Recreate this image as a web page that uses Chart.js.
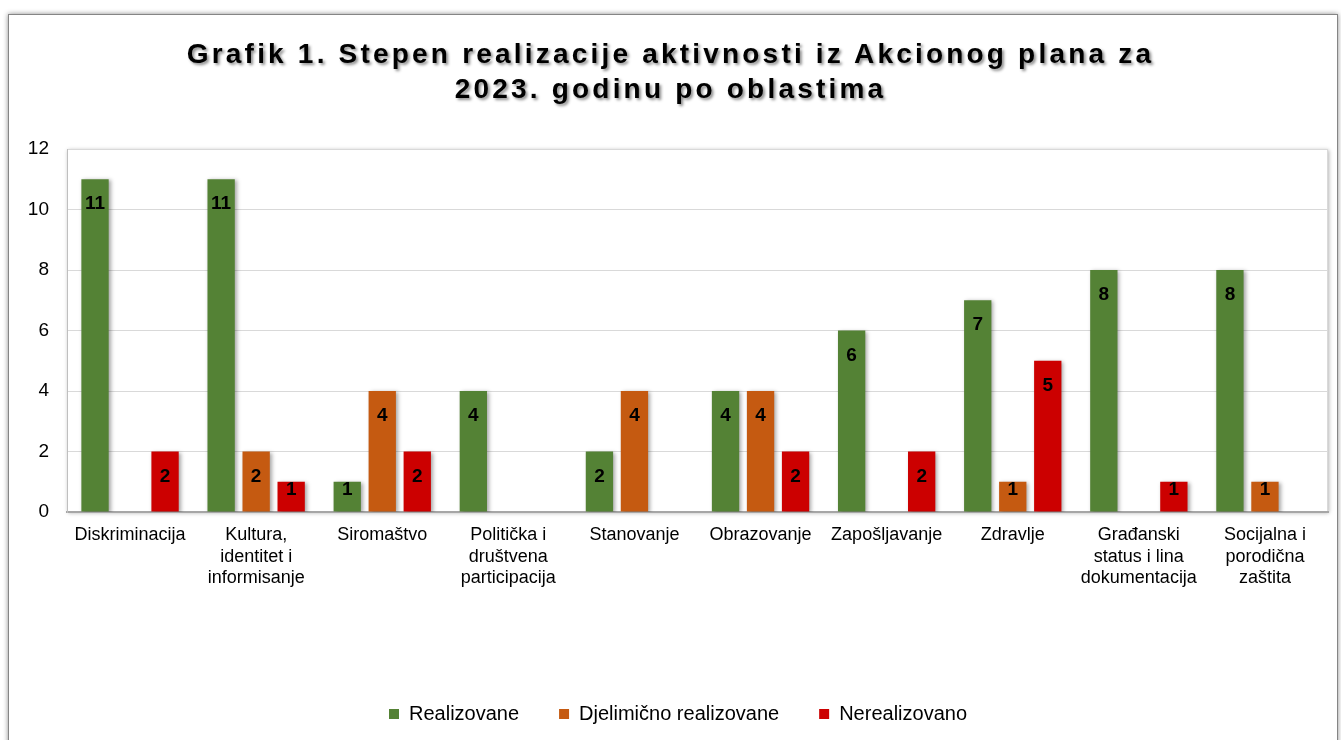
<!DOCTYPE html>
<html>
<head>
    <title>Grafik 1</title>
    <script src="https://cdn.jsdelivr.net/npm/chart.js"></script>
    <style>
        body {
            margin: 0;
            background: #fff;
            font-family: Arial, "Liberation Sans", sans-serif;
            overflow: hidden;
        }
        .frame {
            position: absolute;
            left: 8px;
            top: 14px;
            width: 1328px;
            height: 780px;
            border: 1px solid #858585;
            box-shadow: 0 0 5px rgba(0,0,0,0.45);
            background: #fff;
        }
        .chart-title {
            position: absolute;
            left: 0;
            top: 36px;
            width: 1341px;
            text-align: center;
            font-weight: bold;
            font-size: 28px;
            line-height: 35px;
            letter-spacing: 3.2px;
            color: #000;
            text-shadow: 2px 2px 3px rgba(0,0,0,0.45);
            z-index: 2;
        }
        .chart-box {
            position: absolute;
            left: 0;
            top: 0;
            width: 1341px;
            height: 734px;
            z-index: 1;
        }
    </style>
</head>
<body>
    <div class="frame"></div>
    <div class="chart-title">Grafik 1. Stepen realizacije aktivnosti iz Akcionog plana za<br>2023. godinu po oblastima</div>
    <div class="chart-box">
        <canvas id="chart"></canvas>
    </div>

    <script>
        var categories = [
            'Diskriminacija',
            ['Kultura,', 'identitet i', 'informisanje'],
            'Siromaštvo',
            ['Politička i', 'društvena', 'participacija'],
            'Stanovanje',
            'Obrazovanje',
            'Zapošljavanje',
            'Zdravlje',
            ['Građanski', 'status i lina', 'dokumentacija'],
            ['Socijalna i', 'porodična', 'zaštita']
        ];
        var realizovane = [11, 11, 1, 4, 2, 4, 6, 7, 8, 8];
        var djelimicno = [0, 2, 4, 0, 4, 4, 0, 1, 0, 1];
        var nerealizovano = [2, 1, 2, 0, 0, 2, 2, 5, 1, 0];
        var seriesNames = ['Realizovane', 'Djelimično realizovane', 'Nerealizovano'];
        var seriesColors = ['#548235', '#C55A11', '#CC0000'];

        // shadows under bars, plot frame, value labels inside the bars
        var barExtras = {
            id: 'barExtras',
            beforeDraw: function(chart) {
                var a = chart.chartArea, ctx = chart.ctx;
                ctx.save();
                ctx.shadowColor = 'rgba(0,0,0,0.3)';
                ctx.shadowBlur = 4;
                ctx.shadowOffsetX = 1;
                ctx.shadowOffsetY = 1;
                ctx.fillStyle = '#fff';
                ctx.fillRect(a.left, a.top, a.right - a.left, a.bottom - a.top);
                ctx.restore();
                ctx.save();
                ctx.strokeStyle = '#d9d9d9';
                ctx.lineWidth = 1;
                ctx.strokeRect(a.left + 0.5, a.top + 0.5, a.right - a.left - 1, a.bottom - a.top);
                ctx.restore();
            },
            beforeDatasetsDraw: function(chart) {
                var ctx = chart.ctx;
                ctx.save();
                ctx.shadowColor = 'rgba(0,0,0,0.35)';
                ctx.shadowBlur = 4;
                ctx.shadowOffsetX = 2;
                ctx.shadowOffsetY = 1;
            },
            afterDatasetsDraw: function(chart) {
                var ctx = chart.ctx;
                ctx.restore();
                ctx.save();
                ctx.font = 'bold 19px Arial, "Liberation Sans", sans-serif';
                ctx.fillStyle = '#000';
                ctx.textAlign = 'center';
                ctx.textBaseline = 'middle';
                chart.data.datasets.forEach(function(ds, i) {
                    chart.getDatasetMeta(i).data.forEach(function(bar, j) {
                        var v = ds.data[j];
                        if (!v) return;
                        var h = bar.base - bar.y;
                        var y = h >= 45 ? bar.y + 25 : bar.y + 8;
                        ctx.fillText(String(v), bar.x, y);
                    });
                });
                ctx.restore();
            }
        };

        var ctx = document.getElementById('chart').getContext('2d');
        var chart = new Chart(ctx, {
            type: 'bar',
            data: {
                labels: categories,
                datasets: [
                    { label: seriesNames[0], data: realizovane, backgroundColor: seriesColors[0] },
                    { label: seriesNames[1], data: djelimicno, backgroundColor: seriesColors[1] },
                    { label: seriesNames[2], data: nerealizovano, backgroundColor: seriesColors[2] }
                ]
            },
            options: {
                responsive: true,
                maintainAspectRatio: false,
                animation: false,
                categoryPercentage: 0.833,
                barPercentage: 0.78,
                layout: {
                    padding: { top: 149, right: 13, left: 28, bottom: 0 }
                },
                plugins: {
                    title: { display: false },
                    tooltip: { enabled: false },
                    legend: {
                        position: 'bottom',
                        labels: {
                            boxWidth: 10,
                            boxHeight: 10,
                            padding: 40,
                            color: '#000',
                            font: { size: 20, family: 'Arial, "Liberation Sans", sans-serif' }
                        }
                    }
                },
                scales: {
                    x: {
                        grid: { display: false },
                        border: { color: '#a6a6a6', width: 2 },
                        ticks: {
                            color: '#000',
                            padding: 5,
                            maxRotation: 0,
                            autoSkip: false,
                            font: { size: 18, lineHeight: 1.17, family: 'Arial, "Liberation Sans", sans-serif' }
                        },
                        afterFit: function(scale) { scale.height = 152; }
                    },
                    y: {
                        min: 0,
                        max: 12,
                        grid: { color: '#d9d9d9', drawTicks: false },
                        border: { color: '#bfbfbf', width: 1 },
                        ticks: {
                            stepSize: 2,
                            color: '#000',
                            padding: 18,
                            font: { size: 19, family: 'Arial, "Liberation Sans", sans-serif' }
                        },
                        afterFit: function(scale) { scale.width = 39; }
                    }
                }
            },
            plugins: [barExtras]
        });
    </script>
</body>
</html>
